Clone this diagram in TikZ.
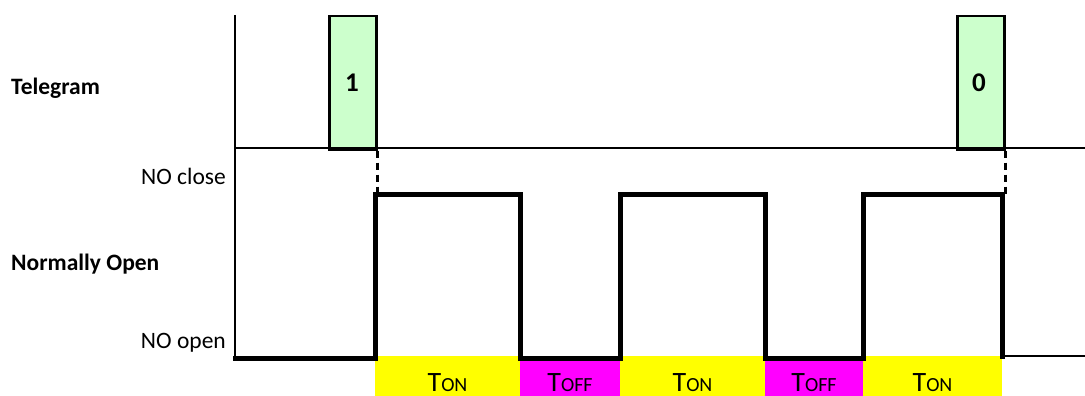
\documentclass[tikz,border=0pt]{standalone}
\usepackage{fontspec}
\setmainfont{Carlito}
\definecolor{pulsegreen}{HTML}{CCFFCC}
\definecolor{bandyellow}{HTML}{FFFF00}
\definecolor{bandmagenta}{HTML}{FF00FF}
\newcommand{\mainsize}{\fontsize{23.5}{28}\selectfont}
\newcommand{\digitsize}{\fontsize{27}{30}\selectfont}
\newcommand{\tlab}[1]{{\fontsize{28}{30}\selectfont T}{\fontsize{20}{24}\selectfont #1}}
\begin{document}
\begin{tikzpicture}[x=1pt,y=-1pt,
  pulsebox/.style={draw=black, line width=2.5pt, fill=pulsegreen, minimum width=47pt, minimum height=133pt, inner sep=0pt, anchor=north west},
  bandbox/.style={minimum height=40pt, inner sep=0pt, anchor=north west, draw=none},
  sig/.style={line width=5pt, line cap=rect, line join=miter},
  axisline/.style={line width=2.5pt},
  sepline/.style={line width=2pt},
  dashline/.style={line width=2.5pt, dash pattern=on 7pt off 5pt},
  txt/.style={inner sep=0pt, font=\mainsize},
  bandtxt/.style={inner sep=0pt, anchor=base}
]
\useasboundingbox (0,0) rectangle (1085,396);

% bands
\node[bandbox, fill=bandyellow, minimum width=145pt] (on1) at (375,356) {};
\node[bandbox, fill=bandmagenta, minimum width=100pt] (off1) at (520,356) {};
\node[bandbox, fill=bandyellow, minimum width=145pt] (on2) at (620,356) {};
\node[bandbox, fill=bandmagenta, minimum width=98pt] (off2) at (765,356) {};
\node[bandbox, fill=bandyellow, minimum width=139pt] (on3) at (863,356) {};

\node[bandtxt] (ton1) at (447.5,391) {\tlab{ON}};
\node[bandtxt] (toff1) at (570,391) {\tlab{OFF}};
\node[bandtxt] (ton2) at (692.5,391) {\tlab{ON}};
\node[bandtxt] (toff2) at (814,391) {\tlab{OFF}};
\node[bandtxt] (ton3) at (932.5,391) {\tlab{ON}};

% telegram pulses
\node[pulsebox] (p1) at (328,15) {};
\node[pulsebox] (p0) at (956,15) {};
\node[inner sep=0pt, anchor=base, font=\digitsize\bfseries] (one) at (352,92) {1};
\node[inner sep=0pt, anchor=base, font=\digitsize\bfseries] (zero) at (979,92) {0};

% axes
\coordinate (axtop) at (235,15);
\coordinate (axbot) at (235,360);
\coordinate (sepl) at (235,148);
\coordinate (sepr) at (1085,148);
\draw[axisline] (axtop) -- (axbot);
\draw[sepline] (sepl) -- (sepr);

% dashed markers
\draw[dashline] (p1.south east) -- ++(0,46);
\draw[dashline] (p0.south east) -- ++(0,46);

% signal
\draw[sig] (235,358) -- (375,358) -- (375,194) -- (520,194) -- (520,358)
  -- (620,358) -- (620,194) -- (765,194) -- (765,358) -- (863,358)
  -- (863,194) -- (1002,194) -- (1002,356);
\coordinate (tailA) at (1002,356);
\coordinate (tailB) at (1085,356);
\draw[sepline] (tailA) -- (tailB);

% left labels
\node[txt, anchor=base west, font=\mainsize\bfseries] (tele) at (11,95) {Telegram};
\node[txt, anchor=base west, font=\mainsize\bfseries] (nopen) at (11,270) {Normally Open};
\node[txt, anchor=base east] (noclose) at (226,184) {NO close};
\node[txt, anchor=base east] (noopen) at (226,348) {NO open};
\end{tikzpicture}
\end{document}
